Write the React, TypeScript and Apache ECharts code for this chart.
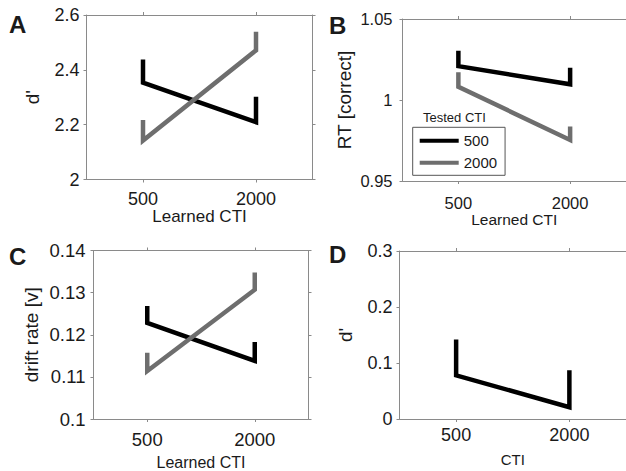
import React, { useEffect, useRef } from "react";
import * as echarts from "echarts";

const categories = ["500", "2000"];

// Panel A: d'
const aBlackMean = [2.353, 2.209];
const aBlackUpper = [2.438, 2.302];
const aGrayMean = [2.142, 2.471];
const aGrayUpper = [2.217, 2.539];

// Panel B: RT [correct]
const bBlackMean = [1.0209, 1.0097];
const bBlackUpper = [1.0304, 1.0199];
const bGrayMean = [1.0082, 0.9753];
const bGrayUpper = [1.0172, 0.9836];

// Panel C: drift rate [v]
const cBlackMean = [0.1228, 0.1138];
const cBlackUpper = [0.1268, 0.1183];
const cGrayMean = [0.1114, 0.1307];
const cGrayUpper = [0.1157, 0.1348];

// Panel D: d'
const dBlackMean = [0.078, 0.021];
const dBlackUpper = [0.142, 0.087];

const legendNames = ["500", "2000"];

const FONT = "'Liberation Sans', Arial, Helvetica, sans-serif";
const AXIS = "#8a8a8a";
const TXT = "#1a1a1a";
const BLACK = "#000000";
const GRAY = "#6e6e6e";

type Panel = {
  left: number; top: number; width: number; height: number;
  min: number; max: number; interval: number;
  yName: string; yGap: number; xName: string; xGap: number;
  xNameSize: number; labelSize: number; xLabelMargin: number; yLabelMargin: number;
};

const panels: Panel[] = [
  { left: 86.5, top: 15, width: 226, height: 164.5, min: 2, max: 2.6, interval: 0.2,
    yName: "d'", yGap: 45, xName: "Learned CTI", xGap: 26, xNameSize: 17, labelSize: 18, xLabelMargin: 10, yLabelMargin: 7 },
  { left: 402.5, top: 19, width: 225, height: 162, min: 0.95, max: 1.05, interval: 0.05,
    yName: "RT [correct]", yGap: 49, xName: "Learned CTI", xGap: 23, xNameSize: 15.5, labelSize: 16.5, xLabelMargin: 13, yLabelMargin: 10 },
  { left: 93.5, top: 250.5, width: 215, height: 171, min: 0.1, max: 0.14, interval: 0.01,
    yName: "drift rate [v]", yGap: 53, xName: "Learned CTI", xGap: 35, xNameSize: 16, labelSize: 18.5, xLabelMargin: 11, yLabelMargin: 8 },
  { left: 399.5, top: 251, width: 232, height: 168, min: 0, max: 0.3, interval: 0.1,
    yName: "d'", yGap: 45, xName: "CTI", xGap: 33, xNameSize: 15, labelSize: 18, xLabelMargin: 7, yLabelMargin: 7 },
];

function pathData(mean: number[], upper: number[]) {
  return [[0, upper[0]], [0, mean[0]], [1, mean[1]], [1, upper[1]]];
}

const seriesDefs = [
  { grid: 0, name: legendNames[0], color: BLACK, mean: aBlackMean, upper: aBlackUpper },
  { grid: 0, name: legendNames[1], color: GRAY, mean: aGrayMean, upper: aGrayUpper },
  { grid: 1, name: legendNames[0], color: BLACK, mean: bBlackMean, upper: bBlackUpper },
  { grid: 1, name: legendNames[1], color: GRAY, mean: bGrayMean, upper: bGrayUpper },
  { grid: 2, name: legendNames[0], color: BLACK, mean: cBlackMean, upper: cBlackUpper },
  { grid: 2, name: legendNames[1], color: GRAY, mean: cGrayMean, upper: cGrayUpper },
  { grid: 3, name: legendNames[0], color: BLACK, mean: dBlackMean, upper: dBlackUpper },
];

export default function App() {
  const ref = useRef<HTMLDivElement>(null);
  useEffect(() => {
    if (!ref.current) return;
    const chart = echarts.init(ref.current, undefined, { renderer: "svg" });
    const grids: any[] = [];
    const xAxes: any[] = [];
    const yAxes: any[] = [];
    panels.forEach((p, i) => {
      grids.push({ left: p.left, top: p.top, width: p.width, height: p.height, show: false });
      const lineStyle = { color: AXIS, width: 1 };
      xAxes.push({
        type: "category", gridIndex: i, data: categories, boundaryGap: true, position: "bottom",
        axisLine: { show: true, lineStyle },
        axisTick: { show: true, alignWithLabel: true, length: 3, lineStyle, interval: 0 },
        axisLabel: { show: true, fontSize: p.labelSize, color: TXT, margin: p.xLabelMargin, fontFamily: FONT, interval: 0 },
        splitLine: { show: false },
        name: p.xName, nameLocation: "middle", nameGap: p.xGap,
        nameTextStyle: { fontSize: p.xNameSize, color: TXT, fontFamily: FONT },
      });
      xAxes.push({
        type: "category", gridIndex: i, data: categories, boundaryGap: true, position: "top",
        axisLine: { show: true, onZero: false, lineStyle },
        axisTick: { show: true, alignWithLabel: true, length: 3, lineStyle, interval: 0 },
        axisLabel: { show: false }, splitLine: { show: false },
      });
      yAxes.push({
        type: "value", gridIndex: i, min: p.min, max: p.max, interval: p.interval, position: "left",
        axisLine: { show: true, onZero: false, lineStyle },
        axisTick: { show: true, length: 3, lineStyle },
        axisLabel: { show: true, fontSize: p.labelSize, color: TXT, margin: p.yLabelMargin, fontFamily: FONT },
        splitLine: { show: false },
        name: p.yName, nameLocation: "middle", nameGap: p.yGap,
        nameTextStyle: { fontSize: 19, color: TXT, fontFamily: FONT },
      });
      yAxes.push({
        type: "value", gridIndex: i, min: p.min, max: p.max, interval: p.interval, position: "right",
        axisLine: { show: true, onZero: false, lineStyle },
        axisTick: { show: true, length: 3, lineStyle },
        axisLabel: { show: false }, splitLine: { show: false },
      });
    });

    const series = seriesDefs.map((s) => ({
      type: "line", name: s.name,
      xAxisIndex: s.grid * 2, yAxisIndex: s.grid * 2,
      data: pathData(s.mean, s.upper),
      symbol: "none", color: s.color,
      itemStyle: { color: s.color },
      lineStyle: { color: s.color, width: 4.5, cap: "butt", join: "miter" },
      z: 5,
    }));

    const letters = [
      { t: "A", x: 9, y: 24 },
      { t: "B", x: 329, y: 25 },
      { t: "C", x: 9, y: 256 },
      { t: "D", x: 329, y: 254 },
    ];

    chart.setOption({
      animation: false,
      textStyle: { fontFamily: FONT },
      grid: grids,
      xAxis: xAxes,
      yAxis: yAxes,
      series,
      legend: {
        data: legendNames,
        orient: "vertical",
        left: 412.7, top: 127.3,
        icon: "rect", itemWidth: 39, itemHeight: 4, itemGap: 7,
        padding: [6, 8, 5, 7],
        borderColor: "#555", borderWidth: 1, backgroundColor: "#fff",
        textStyle: { fontSize: 15, color: TXT, fontFamily: FONT },
        selectedMode: false,
      },
      graphic: [
        ...letters.map((l) => ({
          type: "text", left: l.x, top: l.y - 12,
          style: { text: l.t, fontSize: 24, fontWeight: "bold", fill: TXT, fontFamily: FONT },
        })),
        {
          type: "text", left: 423, top: 111,
          style: { text: "Tested CTI", fontSize: 13, fill: TXT, fontFamily: FONT },
        },
      ],
    });
    return () => chart.dispose();
  }, []);
  return <div ref={ref} style={{ position: "fixed", left: 0, top: 0, width: 626, height: 471, background: "#fff" }} />;
}
